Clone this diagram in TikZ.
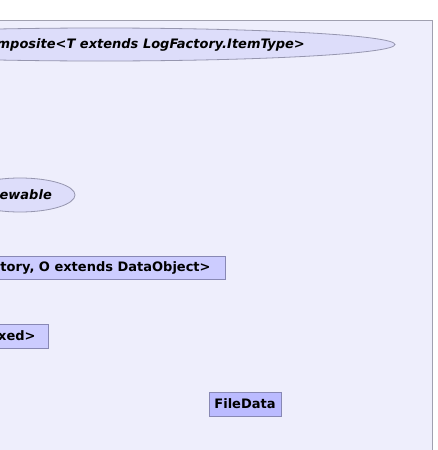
\documentclass[tikz,border=0pt]{standalone}
\usepackage{fontspec}
\setmainfont{DejaVu Sans}
\usetikzlibrary{shapes.geometric}
\definecolor{panelfill}{RGB}{238,238,252}
\definecolor{panelline}{RGB}{160,160,176}
\definecolor{ellfill}{RGB}{221,221,250}
\definecolor{ellline}{RGB}{150,150,175}
\definecolor{boxfill}{RGB}{204,204,255}
\definecolor{boxfilltwo}{RGB}{187,187,255}
\definecolor{boxline}{RGB}{136,136,180}
\tikzset{
  lbl/.style={font=\fontsize{13}{15}\selectfont\bfseries, text=black, inner sep=0pt},
  ilbl/.style={lbl, font=\fontsize{13}{15}\selectfont\bfseries\itshape},
  ellnode/.style={ellipse, draw=ellline, fill=ellfill, line width=0.8pt, inner sep=0pt},
  boxnode/.style={rectangle, draw=boxline, fill=boxfill, line width=0.8pt, font=\fontsize{13}{15}\selectfont\bfseries, inner ysep=0pt, minimum height=23pt},
}
\begin{document}
\begin{tikzpicture}[x=1pt,y=-1pt]
\useasboundingbox (0,0) rectangle (437,450);
\fill[white] (0,0) rectangle (437,450);
\clip (0,0) rectangle (437,450);
\node[draw=panelline, fill=panelfill, line width=0.8pt, rectangle, minimum width=500pt, minimum height=460pt, anchor=north east, inner sep=0pt] (panel) at (433,19.5) {};
% ellipse 1
\node[ellnode, minimum width=590pt, minimum height=33pt] (ea) at (100,44.5) {};
\node[ilbl, anchor=east] (eat) at (305,44.5) {LogComposite<T extends LogFactory.ItemType>};
% ellipse 2
\node[ellnode, minimum width=110pt, minimum height=34pt] (eb) at (20,195) {};
\node[ilbl, anchor=east] (ebt) at (52,195) {Viewable};
% boxes
\node[boxnode, anchor=east, inner xsep=15pt] (ba) at (226,268) {LogFactory, O extends DataObject>};
\node[boxnode, anchor=east, inner xsep=13pt, minimum height=24pt] (bb) at (49,336) {Indexed>};
\node[boxnode, fill=boxfilltwo, minimum height=24pt, minimum width=72pt, inner xsep=5pt] (fd) at (245,404) {FileData};
\end{tikzpicture}
\end{document}
